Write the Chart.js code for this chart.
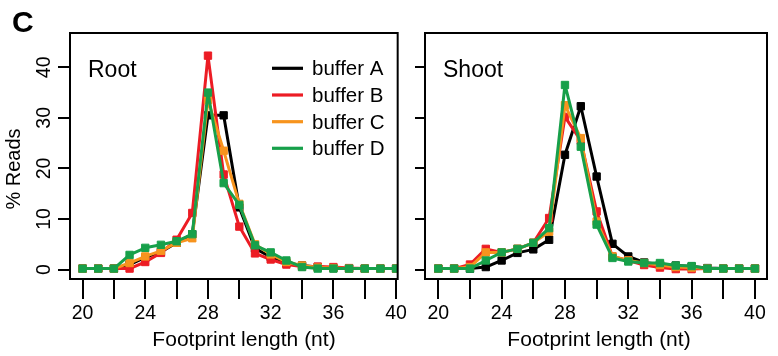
<!DOCTYPE html>
<html>
<head>
<meta charset="utf-8">
<script src="https://cdn.jsdelivr.net/npm/chart.js@4.4.1/dist/chart.umd.min.js"></script>
<style>
  html, body { margin:0; padding:0; background:#fff; }
  #wrap { position:relative; width:778px; height:356px; overflow:hidden; background:#fff; }
  canvas { position:absolute; top:0; }
  #cRoot { left:0; }
  #cShoot { left:410px; }
</style>
</head>
<body>
<div id="wrap">
  <canvas id="cRoot" width="410" height="356"></canvas>
  <canvas id="cShoot" width="368" height="356"></canvas>
</div>
<script>
// ---- data ----
const footprintLengths = [20,21,22,23,24,25,26,27,28,29,30,31,32,33,34,35,36,37,38,39,40];
const xTicks = [20,22,24,26,28,30,32,34,36,38,40];
const xTickLabels = ['20','','24','','28','','32','','36','','40'];
const yTicks = [0,10,20,30,40];
const yTickLabels = ['0','10','20','30','40'];
const bufferNames = ['buffer A','buffer B','buffer C','buffer D'];

const rootA = [0.2,0.2,0.2,1.0,2.4,3.5,5.3,7.0,30.5,30.5,12.3,4.2,2.5,1.3,0.8,0.5,0.3,0.2,0.2,0.2,0.2];
const rootB = [0.2,0.2,0.2,0.2,1.5,3.3,5.9,11.2,42.3,18.8,8.5,3.2,2.0,1.0,0.6,0.6,0.5,0.3,0.2,0.2,0.2];
const rootC = [0.2,0.2,0.2,1.3,2.6,3.7,5.3,6.2,33.5,23.5,13.0,5.0,3.0,1.5,0.8,0.4,0.3,0.2,0.2,0.2,0.2];
const rootD = [0.2,0.2,0.2,2.9,4.3,4.9,5.6,7.0,35.0,17.1,12.8,4.8,3.4,1.8,0.5,0.2,0.2,0.2,0.2,0.2,0.2];

const shootA = [0.2,0.2,0.2,0.5,1.8,3.3,4.0,5.9,22.7,32.3,18.4,5.1,2.6,1.4,1.0,0.8,0.6,0.3,0.2,0.2,0.2];
const shootB = [0.2,0.2,1.0,4.1,3.4,4.1,5.3,10.2,30.2,25.5,11.5,2.6,1.8,0.9,0.4,0.1,0.1,0.2,0.2,0.2,0.2];
const shootC = [0.2,0.2,0.5,3.4,3.4,4.1,5.3,7.5,32.5,26.0,9.5,2.6,1.8,1.3,0.9,0.5,0.4,0.2,0.2,0.2,0.2];
const shootD = [0.2,0.2,0.2,1.8,3.4,4.1,5.3,8.2,36.5,24.3,8.9,2.3,1.6,1.3,1.3,0.8,0.7,0.2,0.2,0.2,0.2];

const colors = ['#000000','#ec1c24','#f7941e','#17a04a'];
const FONT = "'Liberation Sans', Arial, Helvetica, sans-serif";

Chart.defaults.font.family = FONT;
Chart.defaults.color = '#000';

function makeDatasets(series) {
  return series.map((vals, i) => ({
    label: bufferNames[i],
    data: footprintLengths.map((x, j) => ({x: x, y: vals[j]})),
    borderColor: colors[i],
    backgroundColor: colors[i],
    borderWidth: 3,
    borderJoinStyle: 'round',
    borderCapStyle: 'round',
    pointStyle: 'rect',
    pointRadius: 5.2,
    pointBorderWidth: 1,
    pointBorderColor: colors[i],
    pointBackgroundColor: colors[i],
    tension: 0,
    order: 4 - i
  }));
}

function decoPlugin(cfg) {
  return {
    id: 'deco',
    afterDraw(chart) {
      const ctx = chart.ctx, a = chart.chartArea;
      ctx.save();
      ctx.strokeStyle = '#000';
      ctx.lineWidth = 2;
      ctx.strokeRect(a.left, a.top, a.right - a.left, a.bottom - a.top);
      ctx.fillStyle = '#000';
      // panel label
      ctx.font = '23px ' + FONT;
      ctx.textAlign = 'left';
      ctx.textBaseline = 'alphabetic';
      ctx.fillText(cfg.panel, cfg.panelX, 76.5);
      // x title
      ctx.font = '21px ' + FONT;
      ctx.textAlign = 'center';
      ctx.fillText('Footprint length (nt)', cfg.xTitleX, 346);
      if (cfg.yTitle) {
        ctx.save();
        ctx.translate(14, 169);
        ctx.rotate(-Math.PI / 2);
        ctx.font = '20px ' + FONT;
        ctx.textAlign = 'center';
        ctx.textBaseline = 'middle';
        ctx.fillText('% Reads', 0, 0);
        ctx.restore();
        ctx.font = 'bold 30px ' + FONT;
        ctx.textAlign = 'left';
        ctx.textBaseline = 'alphabetic';
        ctx.fillText('C', 12, 32);
      }
      if (cfg.legend) {
        const ys = [68.3, 95, 121.7, 148.3];
        ctx.font = '20.5px ' + FONT;
        ctx.textAlign = 'left';
        ctx.textBaseline = 'alphabetic';
        bufferNames.forEach((n, i) => {
          ctx.strokeStyle = colors[i];
          ctx.lineWidth = 3.2;
          ctx.beginPath();
          ctx.moveTo(272, ys[i]);
          ctx.lineTo(303, ys[i]);
          ctx.stroke();
          ctx.fillStyle = '#000';
          ctx.fillText(n, 312, ys[i] + 7);
        });
      }
      ctx.restore();
    }
  };
}

function makeChart(id, series, cfg) {
  return new Chart(document.getElementById(id), {
    type: 'line',
    data: { datasets: makeDatasets(series) },
    options: {
      responsive: false,
      maintainAspectRatio: false,
      animation: false,
      devicePixelRatio: 1,
      layout: { padding: { left: 0, top: 33, right: cfg.padRight, bottom: 0 } },
      plugins: { legend: { display: false }, tooltip: { enabled: false }, title: { display: false } },
      scales: {
        x: {
          type: 'linear',
          min: cfg.xMin, max: cfg.xMax,
          afterBuildTicks: s => { s.ticks = xTicks.map(v => ({value: v})); },
          afterFit: s => { s.height = 77; },
          grid: { drawOnChartArea: false, drawTicks: true, tickLength: 20, color: '#000', lineWidth: 2 },
          border: { display: false },
          ticks: {
            autoSkip: false, maxRotation: 0, minRotation: 0, padding: 3,
            font: { size: 19.5, family: FONT }, color: '#000',
            callback: (v, i) => xTickLabels[i]
          }
        },
        y: {
          type: 'linear',
          min: -1.86, max: 46.78,
          afterBuildTicks: s => { s.ticks = yTicks.map(v => ({value: v})); },
          afterFit: s => { s.width = cfg.yWidth; },
          grid: { drawOnChartArea: false, drawTicks: true, tickLength: cfg.yTickLen, color: '#000', lineWidth: 2 },
          border: { display: false },
          ticks: {
            autoSkip: false, minRotation: 90, maxRotation: 90, crossAlign: 'center', padding: 3,
            font: { size: 19.5, family: FONT }, color: '#000',
            callback: (v, i) => cfg.yLabels ? yTickLabels[i] : ''
          }
        }
      }
    },
    plugins: [decoPlugin(cfg)]
  });
}

makeChart('cRoot', [rootA, rootB, rootC, rootD], {
  panel: 'Root', panelX: 88, xTitleX: 244, yTitle: true, legend: true,
  padRight: 10, xMin: 19.2, xMax: 40.1, yWidth: 70, yTickLen: 12, yLabels: true
});
makeChart('cShoot', [shootA, shootB, shootC, shootD], {
  panel: 'Shoot', panelX: 33, xTitleX: 189, yTitle: false, legend: false,
  padRight: 11, xMin: 19.16, xMax: 40.76, yWidth: 15, yTickLen: 10, yLabels: false
});
</script>
</body>
</html>
